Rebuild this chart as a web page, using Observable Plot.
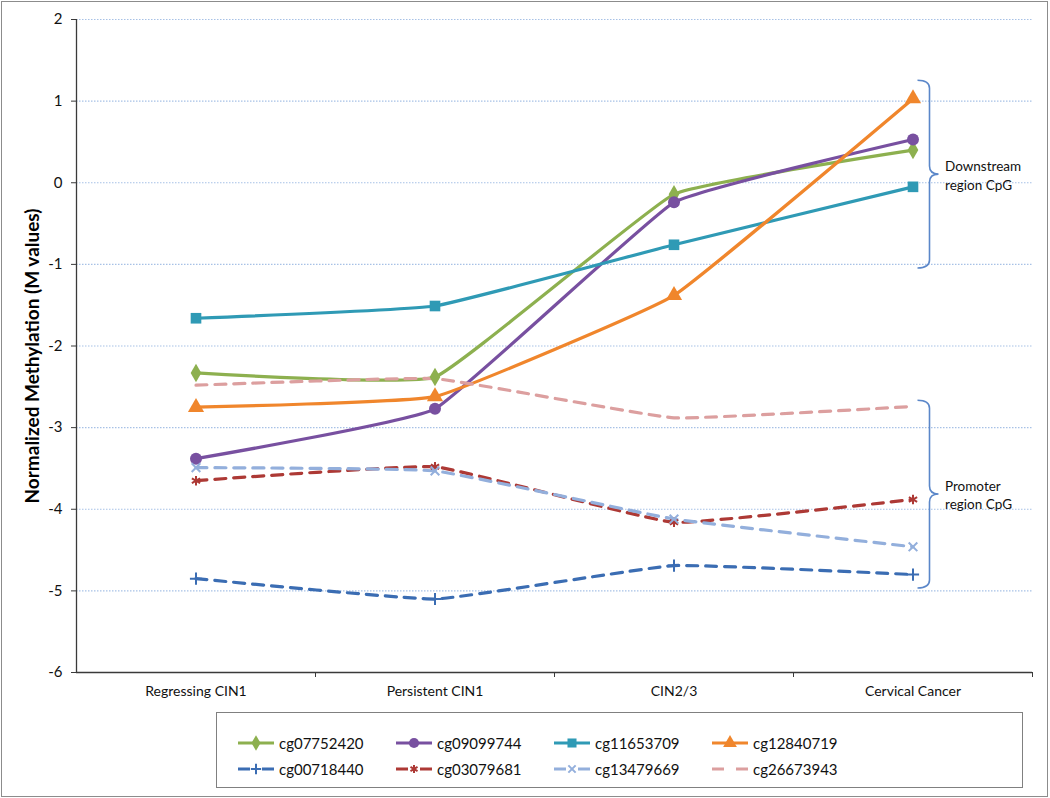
<!DOCTYPE html>
<html><head><meta charset="utf-8">
<script src="https://cdn.jsdelivr.net/npm/d3@7"></script>
<script src="https://cdn.jsdelivr.net/npm/@observablehq/plot@0.6"></script>
<style>
body{margin:0;background:#fff;font-family:Lato,sans-serif;}
#wrap{position:relative;width:1050px;height:798px;overflow:hidden;background:#fff}
#border{position:absolute;left:1px;top:1px;width:1045px;height:794px;border:1px solid #8c8c8c;pointer-events:none}
#chart{position:absolute;left:0;top:0}
#legend{position:absolute;left:216px;top:712px;width:805px;height:74px;border:1px solid #808080;}
.item{position:absolute;display:flex;align-items:center;font-size:15px;color:#111;white-space:nowrap}
.item svg{margin-right:4px}
</style></head><body>
<div id="wrap"><div id="chart"></div><div id="legend"></div><div id="border"></div></div>
<script>
// ---- data ----
const categories = ["Regressing CIN1", "Persistent CIN1", "CIN2/3", "Cervical Cancer"];
const probes = ["cg07752420", "cg09099744", "cg11653709", "cg12840719", "cg00718440", "cg03079681", "cg13479669", "cg26673943"];
const cg07752420 = [-2.33, -2.38, -0.14, 0.40];
const cg09099744 = [-3.38, -2.77, -0.24, 0.53];
const cg11653709 = [-1.66, -1.51, -0.76, -0.05];
const cg12840719 = [-2.75, -2.62, -1.38, 1.03];
const cg00718440 = [-4.85, -5.10, -4.69, -4.80];
const cg03079681 = [-3.65, -3.48, -4.16, -3.88];
const cg13479669 = [-3.49, -3.53, -4.12, -4.46];
const cg26673943 = [-2.48, -2.40, -2.88, -2.74];
const seriesValues = [cg07752420, cg09099744, cg11653709, cg12840719, cg00718440, cg03079681, cg13479669, cg26673943];
const yTicks = [-6, -5, -4, -3, -2, -1, 0, 1, 2];
const yTitle = "Normalized Methylation (M values)";
const braceLabels = ["Downstream\nregion CpG", "Promoter\nregion CpG"];
const braceTop = [1.25, -2.67];
const braceBottom = [-1.05, -4.97];

// ---- styles ----
const colors = ["#8db04f", "#7850a0", "#2f9ab5", "#f0862c", "#3b6db3", "#ad3935", "#93afdc", "#dc9f9f"];
const symbols = ["diamond", "circle", "square", "triangle", "plus", "asterisk", "times", null];
const dashed = [false, false, false, false, true, true, true, true];
const symbolR = {diamond: 5.6, circle: 6, square: 6, triangle: 6, plus: 4, times: 4, asterisk: 4.5};
const smooth = d3.curveCardinal.tension(0.7);

const rows = [];
probes.forEach((p, s) => seriesValues[s].forEach((v, i) => rows.push({probe: p, s, i, v})));
const braces = braceLabels.map((label, k) => ({label, top: braceTop[k], bottom: braceBottom[k], mid: (braceTop[k] + braceBottom[k]) / 2}));

const lineMarks = probes.map((p, s) => Plot.line(rows.filter(d => d.s === s), {
  x: "i", y: "v", stroke: colors[s], strokeWidth: 3.2, curve: smooth,
  strokeDasharray: dashed[s] ? "11,8" : null, strokeLinecap: dashed[s] ? "round" : "butt"
}));
const dotMarks = probes.map((p, s) => {
  const sym = symbols[s];
  if (!sym) return null;
  const stroked = ["plus", "times", "asterisk"].includes(sym);
  return Plot.dot(rows.filter(d => d.s === s), {
    x: "i", y: "v", symbol: () => sym, r: symbolR[sym],
    fill: stroked ? "none" : colors[s], stroke: stroked ? colors[s] : "none", strokeWidth: stroked ? 2 : 0
  });
}).filter(Boolean);

function braceMark(index, scales) {
  const {x, y} = scales;
  const g = d3.create("svg:g");
  const xc = x(3);
  const x0 = xc + 5, x1 = xc + 17, xt = xc + 26, r = 8;
  braces.forEach(b => {
    const y0 = y(b.top), y1 = y(b.bottom), ym = y(b.mid);
    const path = `M${x0},${y0} Q${x1},${y0} ${x1},${y0 + r} L${x1},${ym - r} Q${x1},${ym} ${xt},${ym} Q${x1},${ym} ${x1},${ym + r} L${x1},${y1 - r} Q${x1},${y1} ${x0},${y1}`;
    g.append("path").attr("d", path).attr("fill", "none").attr("stroke", "#5b87c9").attr("stroke-width", 1.6);
  });
  return g.node();
}

const plot = Plot.plot({
  width: 1050, height: 706,
  marginLeft: 76, marginRight: 18, marginTop: 19, marginBottom: 34,
  style: {fontFamily: "Lato, sans-serif", fontSize: "15px", background: "transparent", color: "#111"},
  x: {type: "linear", domain: [-0.5, 3.5], axis: null},
  y: {domain: [-6, 2], axis: null},
  marks: [
    Plot.ruleY(yTicks.filter(t => t > -6), {stroke: "#a7c1e6", strokeDasharray: "1.5,1.5", strokeWidth: 1.2}),
    ...lineMarks,
    ...dotMarks,
    braceMark,
    Plot.text(braces, {x: () => 3, y: "mid", text: "label", dx: 32, textAnchor: "start", lineAnchor: "middle", fontSize: 13.5, lineHeight: 1.35, fill: "#111"}),
    Plot.ruleY([-6], {stroke: "#3a3a3a", strokeWidth: 1.3}),
    Plot.ruleX([-0.5], {stroke: "#3a3a3a", strokeWidth: 1.3}),
    Plot.axisY(yTicks, {tickSize: 5, tickPadding: 9, fontSize: 15, label: null, stroke: "#3a3a3a", tickFormat: d => String(d)}),
    Plot.axisX([0.5, 1.5, 2.5, 3.5], {tickSize: 5, tickFormat: () => "", label: null, stroke: "#3a3a3a"}),
    Plot.axisX([0, 1, 2, 3], {tickSize: 0, tickPadding: 14, tickFormat: i => categories[i], fontSize: 14, label: null}),
    Plot.text([yTitle], {frameAnchor: "left", textAnchor: "middle", dx: -44, dy: 10, rotate: -90, fontSize: 19, fontWeight: "bold", fill: "#000"})
  ]
});
document.getElementById("chart").appendChild(plot);

// ---- legend ----
const legend = document.getElementById("legend");
const colX = [20, 178, 336, 494];
const rowY = [30, 56];
probes.forEach((p, s) => {
  const div = document.createElement("div");
  div.className = "item";
  div.style.left = colX[s % 4] + "px";
  div.style.top = (rowY[Math.floor(s / 4)] - 10) + "px";
  div.style.height = "20px";
  const sw = d3.create("svg").attr("width", 38).attr("height", 16);
  sw.append("line").attr("x1", 1).attr("x2", 37).attr("y1", 8).attr("y2", 8)
    .attr("stroke", colors[s]).attr("stroke-width", 3.2)
    .attr("stroke-dasharray", dashed[s] ? "12,12" : null);
  const sym = symbols[s];
  if (sym) {
    const stroked = ["plus", "times", "asterisk"].includes(sym);
    const type = {diamond: d3.symbolDiamond, circle: d3.symbolCircle, square: d3.symbolSquare, triangle: d3.symbolTriangle, plus: d3.symbolPlus, times: d3.symbolTimes, asterisk: d3.symbolAsterisk}[sym];
    const rr = symbolR[sym] * 0.85;
    sw.append("path").attr("transform", "translate(19,8)")
      .attr("d", d3.symbol(type, Math.PI * rr * rr)())
      .attr("fill", stroked ? "none" : colors[s]).attr("stroke", stroked ? colors[s] : "none").attr("stroke-width", 2);
  }
  div.appendChild(sw.node());
  const t = document.createElement("span");
  t.textContent = p;
  div.appendChild(t);
  legend.appendChild(div);
});
</script>
</body></html>
